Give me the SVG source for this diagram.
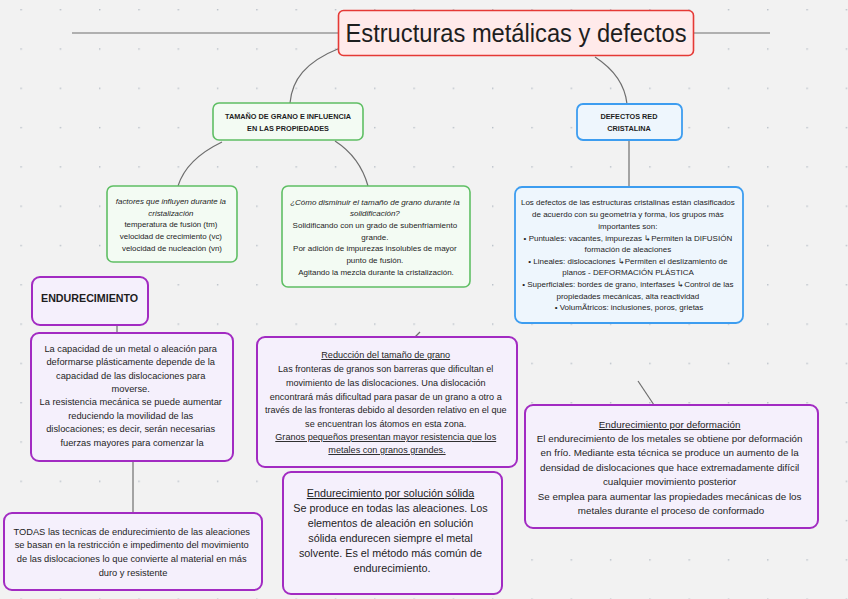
<svg xmlns="http://www.w3.org/2000/svg" width="848" height="599" viewBox="0 0 848 599">
<defs>
<pattern id="dots" x="20.4" y="9" width="39.3" height="39.3" patternUnits="userSpaceOnUse">
<rect x="0" y="0" width="1.4" height="1.4" fill="#b7bec6"/>
</pattern>
<style>
.t{font-family:"Liberation Sans",Arial,sans-serif;fill:#1e1e1e;text-anchor:middle}
.b{font-weight:bold}
.i{font-style:italic}
.u{text-decoration:underline}
.conn{fill:none;stroke:#6e6e6e;stroke-width:1.2}
.green{fill:#f3fbf3;stroke:#5fbf64;stroke-width:1.6}
.blue{fill:#eef6fd;stroke:#3d9df0;stroke-width:1.8}
.purple{fill:#f5f0fc;stroke:#a22bc2;stroke-width:2}
.red{fill:#ffeaea;stroke:#e53935;stroke-width:1.6}
</style>
</defs>
<rect width="848" height="599" fill="#f2f2f2"/>
<rect width="848" height="599" fill="url(#dots)"/>

<g id="connectors">
<path class="conn" d="M72 33 L338 33"/>
<path class="conn" d="M694 33 L770 33"/>
<path class="conn" d="M340 48 C305 62 292 80 290 103"/>
<path class="conn" d="M595 57 C615 70 625 85 627 104"/>
<path class="conn" d="M222 142 C195 155 183 170 178 186"/>
<path class="conn" d="M335 141 C352 152 363 168 368 186"/>
<path class="conn" d="M629 140 L629 186"/>
<path class="conn" d="M117 325 L117 333"/>
<path class="conn" d="M133 461 L133 513"/>
<path class="conn" d="M420 332 L415 337"/>
<path class="conn" d="M638 381 L654 405"/>
</g>

<g id="title">
<rect class="red" x="338.5" y="10.5" width="355" height="45" rx="5"/>
<text class="t" x="516" y="42" font-size="25" textLength="341" lengthAdjust="spacingAndGlyphs">Estructuras metálicas y defectos</text>
</g>

<g id="tamano">
<rect class="green" x="213" y="103" width="150" height="37" rx="6"/>
<text class="t b" font-size="7.3" x="288"><tspan x="288" y="119">TAMAÑO DE GRANO E INFLUENCIA</tspan><tspan x="288" y="131">EN LAS PROPIEDADES</tspan></text>
</g>

<g id="defectos">
<rect class="blue" x="577" y="104" width="105" height="36" rx="6"/>
<text class="t b" font-size="7.3"><tspan x="629" y="119">DEFECTOS RED</tspan><tspan x="629" y="131">CRISTALINA</tspan></text>
</g>

<g id="factores">
<rect class="green" x="107" y="186" width="130" height="76" rx="6"/>
<text class="t" font-size="7.9">
<tspan class="i" x="172" y="203.5">factores que influyen durante la</tspan>
<tspan class="i" x="172" y="215.5">cristalización</tspan>
<tspan x="172" y="227">temperatura de fusión (tm)</tspan>
<tspan x="172" y="238.5">velocidad de crecimiento (vc)</tspan>
<tspan x="172" y="250.5">velocidad de nucleación (vn)</tspan>
</text>
</g>

<g id="disminuir">
<rect class="green" x="282" y="186" width="188" height="101" rx="6"/>
<text class="t" font-size="8">
<tspan class="i" x="376" y="204.5">¿Cómo disminuir el tamaño de grano durante la</tspan>
<tspan class="i" x="376" y="215.5">solidificación?</tspan>
<tspan x="376" y="227.5">Solidificando con un grado de subenfriamiento</tspan>
<tspan x="376" y="239.5">grande.</tspan>
<tspan x="376" y="250.5">Por adición de impurezas insolubles de mayor</tspan>
<tspan x="376" y="262.5">punto de fusión.</tspan>
<tspan x="376" y="274.5">Agitando la mezcla durante la cristalización.</tspan>
</text>
</g>

<g id="defectos-texto">
<rect class="blue" x="515" y="187" width="228" height="136" rx="7"/>
<text class="t" font-size="8">
<tspan x="629" y="204.5">Los defectos de las estructuras cristalinas están clasificados</tspan>
<tspan x="629" y="216.5">de acuerdo con su geometría y forma, los grupos más</tspan>
<tspan x="629" y="228.5">importantes son:</tspan>
<tspan x="629" y="240.5">• Puntuales: vacantes, impurezas ↳Permiten la DIFUSIÓN</tspan>
<tspan x="629" y="251.5">formación de aleaciones</tspan>
<tspan x="629" y="263.5">• Lineales: dislocaciones ↳Permiten el deslizamiento de</tspan>
<tspan x="629" y="274.5">planos - DEFORMACIÓN PLÁSTICA</tspan>
<tspan x="629" y="286.5">• Superficiales: bordes de grano, interfases ↳Control de las</tspan>
<tspan x="629" y="298.5">propiedades mecánicas, alta reactividad</tspan>
<tspan x="629" y="309.5">• VolumÃtricos: inclusiones, poros, grietas</tspan>
</text>
</g>

<g id="endurecimiento">
<rect class="purple" x="32" y="277" width="116" height="48" rx="8"/>
<text class="t b" font-size="10.7" x="41" y="302" style="text-anchor:start">ENDURECIMIENTO</text>
</g>

<g id="capacidad">
<rect class="purple" x="31" y="333" width="202" height="128" rx="8"/>
<text class="t" font-size="9.3">
<tspan x="132" y="352">La capacidad de un metal o aleación para</tspan>
<tspan x="132" y="365">deformarse plásticamente depende de la</tspan>
<tspan x="132" y="379">capacidad de las dislocaciones para</tspan>
<tspan x="132" y="392">moverse.</tspan>
<tspan x="132" y="405">La resistencia mecánica se puede aumentar</tspan>
<tspan x="132" y="419">reduciendo la movilidad de las</tspan>
<tspan x="132" y="432">dislocaciones; es decir, serán necesarias</tspan>
<tspan x="132" y="446">fuerzas mayores para comenzar la</tspan>
</text>
</g>

<g id="todas">
<rect class="purple" x="4" y="513" width="258" height="77" rx="8"/>
<text class="t" font-size="9.3">
<tspan x="133" y="535">TODAS las tecnicas de endurecimiento de las aleaciones</tspan>
<tspan x="133" y="548">se basan en la restricción e impedimento del movimiento</tspan>
<tspan x="133" y="562">de las dislocaciones lo que convierte al material en más</tspan>
<tspan x="133" y="576">duro y resistente</tspan>
</text>
</g>

<g id="reduccion">
<rect class="purple" x="257" y="337" width="260" height="130" rx="8"/>
<text class="t" font-size="9.1">
<tspan class="u" x="387" y="358">Reducción del tamaño de grano</tspan>
<tspan x="387" y="372">Las fronteras de granos son barreras que dificultan el</tspan>
<tspan x="387" y="386">movimiento de las dislocaciones. Una dislocación</tspan>
<tspan x="387" y="400">encontrará más dificultad para pasar de un grano a otro a</tspan>
<tspan x="387" y="413">través de las fronteras debido al desorden relativo en el que</tspan>
<tspan x="387" y="427">se encuentran los átomos en esta zona.</tspan>
<tspan class="u" x="387" y="440">Granos pequeños presentan mayor resistencia que los</tspan>
<tspan class="u" x="387" y="453">metales con granos grandes.</tspan>
</text>
</g>

<g id="solucion">
<rect class="purple" x="283" y="472" width="219" height="122" rx="8"/>
<text class="t" font-size="10.8">
<tspan class="u" x="392" y="497">Endurecimiento por solución sólida</tspan>
<tspan x="392" y="512">Se produce en todas las aleaciones. Los</tspan>
<tspan x="392" y="527">elementos de aleación en solución</tspan>
<tspan x="392" y="542">sólida endurecen siempre el metal</tspan>
<tspan x="392" y="557">solvente. Es el método más común de</tspan>
<tspan x="392" y="572">endurecimiento.</tspan>
</text>
</g>

<g id="deformacion">
<rect class="purple" x="525" y="405" width="293" height="123" rx="8"/>
<text class="t" font-size="9.8">
<tspan class="u" x="671" y="428">Endurecimiento por deformación</tspan>
<tspan x="671" y="442">El endurecimiento de los metales se obtiene por deformación</tspan>
<tspan x="671" y="456">en frío. Mediante esta técnica se produce un aumento de la</tspan>
<tspan x="671" y="471">densidad de dislocaciones que hace extremadamente difícil</tspan>
<tspan x="671" y="485">cualquier movimiento posterior</tspan>
<tspan x="671" y="500">Se emplea para aumentar las propiedades mecánicas de los</tspan>
<tspan x="671" y="514">metales durante el proceso de conformado</tspan>
</text>
</g>
</svg>
